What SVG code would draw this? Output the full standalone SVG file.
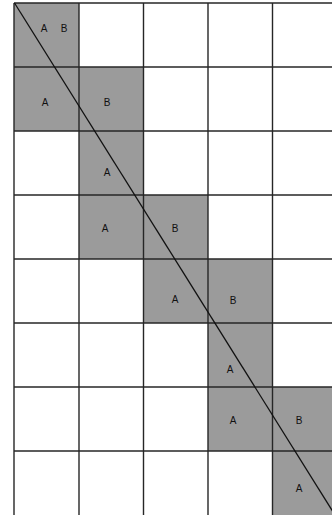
<svg xmlns="http://www.w3.org/2000/svg" width="332" height="515" viewBox="0 0 332 515">
<style>
.cell{fill:#9b9b9b;}
.grid{stroke:#262626;stroke-width:1.4;fill:none;}
.lbl{font-family:"Liberation Sans",Arial,sans-serif;font-size:10px;fill:#111;text-anchor:middle;}
.diag{stroke:#111;stroke-width:1.3;fill:none;}
</style>
<rect width="332" height="515" fill="#fff"/>
<g id="cell-r0c0"><rect class="cell" x="14" y="3" width="65" height="64"/><text class="lbl" x="44" y="32">A</text><text class="lbl" x="64" y="32">B</text></g>
<g id="cell-r1c0"><rect class="cell" x="14" y="67" width="65" height="64"/><text class="lbl" x="45" y="105.5">A</text></g>
<g id="cell-r1c1"><rect class="cell" x="79" y="67" width="64.5" height="64"/><text class="lbl" x="107" y="105.5">B</text></g>
<g id="cell-r2c1"><rect class="cell" x="79" y="131" width="64.5" height="64"/><text class="lbl" x="107" y="175.5">A</text></g>
<g id="cell-r3c1"><rect class="cell" x="79" y="195" width="64.5" height="64"/><text class="lbl" x="105" y="231.5">A</text></g>
<g id="cell-r3c2"><rect class="cell" x="143.5" y="195" width="64.5" height="64"/><text class="lbl" x="175" y="231.5">B</text></g>
<g id="cell-r4c2"><rect class="cell" x="143.5" y="259" width="64.5" height="64"/><text class="lbl" x="175" y="302.5">A</text></g>
<g id="cell-r4c3"><rect class="cell" x="208" y="259" width="64.5" height="64"/><text class="lbl" x="233" y="304">B</text></g>
<g id="cell-r5c3"><rect class="cell" x="208" y="323" width="64.5" height="64"/><text class="lbl" x="230" y="372.5">A</text></g>
<g id="cell-r6c3"><rect class="cell" x="208" y="387" width="64.5" height="64"/><text class="lbl" x="233" y="423.5">A</text></g>
<g id="cell-r6c4"><rect class="cell" x="272.5" y="387" width="64.5" height="64"/><text class="lbl" x="299" y="423.5">B</text></g>
<g id="cell-r7c4"><rect class="cell" x="272.5" y="451" width="64.5" height="64"/><text class="lbl" x="299" y="491.5">A</text></g>
<g id="grid" class="grid">
<line x1="14" y1="3" x2="14" y2="515"/>
<line x1="79" y1="3" x2="79" y2="515"/>
<line x1="143.5" y1="3" x2="143.5" y2="515"/>
<line x1="208" y1="3" x2="208" y2="515"/>
<line x1="272.5" y1="3" x2="272.5" y2="515"/>
<line x1="14" y1="3" x2="332" y2="3"/>
<line x1="14" y1="67" x2="332" y2="67"/>
<line x1="14" y1="131" x2="332" y2="131"/>
<line x1="14" y1="195" x2="332" y2="195"/>
<line x1="14" y1="259" x2="332" y2="259"/>
<line x1="14" y1="323" x2="332" y2="323"/>
<line x1="14" y1="387" x2="332" y2="387"/>
<line x1="14" y1="451" x2="332" y2="451"/>
</g>
<g id="connectors">
<line class="diag" x1="14.5" y1="3" x2="335" y2="515"/>
</g>
</svg>
